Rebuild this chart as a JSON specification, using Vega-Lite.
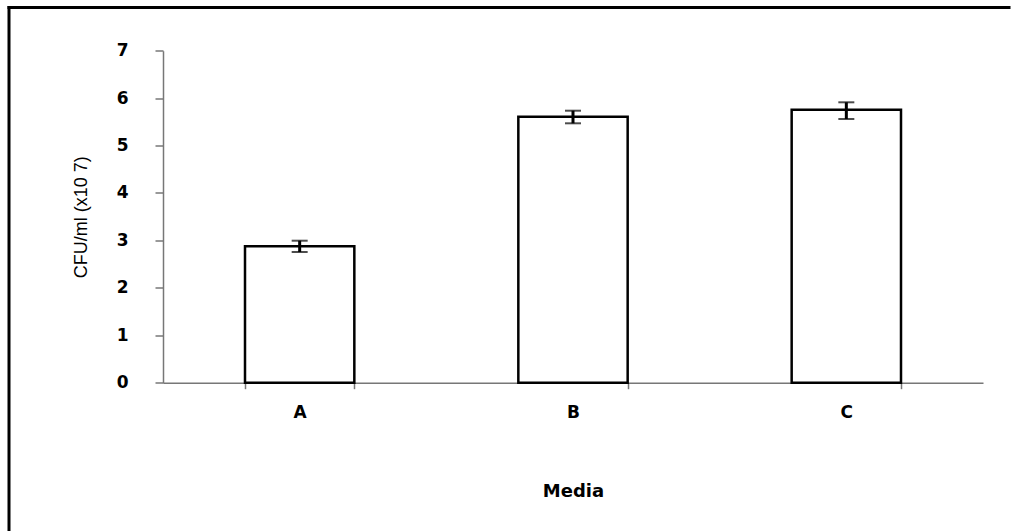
{
  "$schema": "https://vega.github.io/schema/vega-lite/v6.json",
  "width": 1000,
  "height": 523.5,
  "padding": {"left": 9, "top": 7.5, "right": 9, "bottom": 0},
  "autosize": {"type": "none"},
  "background": "white",
  "view": {"stroke": null},
  "config": {
    "view": {"stroke": null},
    "axisX": {
      "domainColor": "#777777", "domainWidth": 1.5, "tickColor": "#777777", "tickWidth": 1.5,
      "tickSize": 6, "tickBand": "extent", "labelAngle": 0,
      "labelFont": "DejaVu Sans", "labelFontWeight": "bold", "labelFontSize": 17, "labelColor": "black",
      "labelPadding": 16,
      "titleFont": "DejaVu Sans", "titleFontWeight": "bold", "titleFontSize": 18, "titleColor": "black",
      "titlePadding": 62
    },
    "axisY": {
      "domainColor": "#777777", "domainWidth": 1.5, "tickColor": "#777777", "tickWidth": 1.5,
      "tickSize": 8, "grid": false,
      "labelFont": "DejaVu Sans", "labelFontWeight": "bold", "labelFontSize": 17, "labelColor": "black",
      "labelPadding": 27,
      "titleFont": "Liberation Sans", "titleFontWeight": "normal", "titleFontSize": 18, "titleColor": "black",
      "titlePadding": 26
    }
  },
  "layer": [
    {
      "data": {
        "values": [
          {"media": "A", "cfu": 2.876, "lower": 2.756, "upper": 2.994},
          {"media": "B", "cfu": 5.608, "lower": 5.469, "upper": 5.735},
          {"media": "C", "cfu": 5.756, "lower": 5.560, "upper": 5.912}
        ]
      },
      "encoding": {
        "x": {
          "field": "media", "type": "nominal", "title": "Media",
          "scale": {"range": [154, 974], "paddingInner": 0.6, "paddingOuter": 0.3},
          "axis": {"offset": -148.3}
        }
      },
      "layer": [
        {
          "mark": {"type": "bar", "fill": "white", "stroke": "black", "strokeWidth": 2.5},
          "encoding": {
            "y": {
              "field": "cfu", "type": "quantitative", "title": "CFU/ml (x10 7)",
              "scale": {"domain": [0, 7], "range": [375.2, 43.2], "nice": false, "zero": true},
              "axis": {"values": [0, 1, 2, 3, 4, 5, 6, 7], "format": "d", "offset": -154}
            }
          }
        },
        {
          "mark": {"type": "rule", "strokeWidth": 3, "color": "black"},
          "encoding": {
            "y": {"field": "lower", "type": "quantitative", "title": "CFU/ml (x10 7)"},
            "y2": {"field": "upper"}
          }
        },
        {
          "mark": {"type": "tick", "thickness": 2, "size": 16, "color": "black"},
          "encoding": {"y": {"field": "lower", "type": "quantitative", "title": "CFU/ml (x10 7)"}}
        },
        {
          "mark": {"type": "tick", "thickness": 2, "size": 16, "color": "black"},
          "encoding": {"y": {"field": "upper", "type": "quantitative", "title": "CFU/ml (x10 7)"}}
        }
      ]
    },
    {
      "data": {"values": [{"fx": 0, "fx2": 0, "fy": 0, "fy2": 1}, {"fx": 0, "fx2": 1, "fy": 1, "fy2": 1}]},
      "mark": {"type": "rule", "strokeWidth": 3, "color": "black", "strokeCap": "square"},
      "encoding": {
        "x": {"field": "fx", "type": "quantitative", "scale": {"domain": [0, 1], "nice": false}, "axis": null},
        "x2": {"field": "fx2"},
        "y": {"field": "fy", "type": "quantitative", "scale": {"domain": [0, 1], "nice": false}, "axis": null},
        "y2": {"field": "fy2"}
      }
    }
  ],
  "resolve": {
    "scale": {"x": "independent", "y": "independent"},
    "axis": {"x": "independent", "y": "independent"}
  }
}
